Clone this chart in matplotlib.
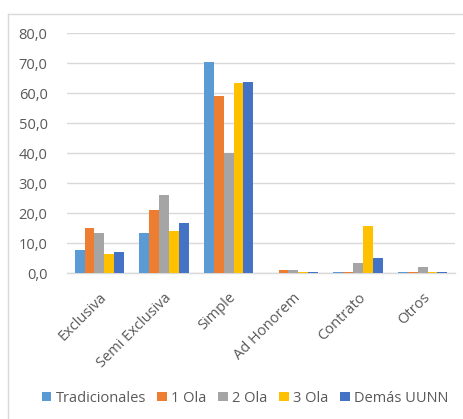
import matplotlib
matplotlib.use("Agg")
import matplotlib.pyplot as plt
import numpy as np
from matplotlib.lines import Line2D

categories = ["Exclusiva", "Semi Exclusiva", "Simple", "Ad Honorem", "Contrato", "Otros"]
series_names = ["Tradicionales", "1 Ola", "2 Ola", "3 Ola", "Demás UUNN"]
tradicionales = [7.8, 13.6, 70.6, 0.0, 0.6, 0.6]
ola1 = [15.0, 21.3, 59.1, 1.1, 0.6, 0.6]
ola2 = [13.6, 26.1, 40.3, 1.1, 3.4, 2.1]
ola3 = [6.4, 14.1, 63.4, 0.6, 15.9, 0.5]
demas = [7.3, 16.9, 63.9, 0.6, 5.1, 0.6]
yticks = [0, 10, 20, 30, 40, 50, 60, 70, 80]
ytick_labels = ["0,0", "10,0", "20,0", "30,0", "40,0", "50,0", "60,0", "70,0", "80,0"]

colors = ["#5B9BD5", "#ED7D31", "#A5A5A5", "#FFC000", "#4472C4"]
series = [tradicionales, ola1, ola2, ola3, demas]

plt.rcParams['font.family'] = ['Open Sans', 'DejaVu Sans']

fig = plt.figure(figsize=(4.64, 4.19), dpi=100)
ax = fig.add_axes([0.1444, 0.3473, 0.8362, 0.5728])

n = len(series)
bw = 0.152
x = np.arange(len(categories))
for i, (vals, c, name) in enumerate(zip(series, colors, series_names)):
    ax.bar(x + (i - (n - 1) / 2) * bw, vals, width=bw, color=c, label=name,
           linewidth=0, zorder=3)

ax.set_xlim(-0.5, len(categories) - 0.5)
ax.set_ylim(0, 80)
ax.set_yticks(yticks)
ax.set_yticklabels(ytick_labels, fontsize=10.5, color="#595959")
ax.yaxis.grid(True, color="#D9D9D9", linewidth=1.0, zorder=0)
ax.set_xticks(x)
ax.set_xticklabels(categories, rotation=45, ha="right", rotation_mode="anchor",
                   fontsize=10.5, color="#595959")
ax.tick_params(axis="both", length=0)
ax.tick_params(axis="y", pad=14)
ax.tick_params(axis="x", pad=12)
for s in ["top", "right", "left"]:
    ax.spines[s].set_visible(False)
ax.spines["bottom"].set_color("#D9D9D9")
ax.spines["bottom"].set_linewidth(1.0)
ax.spines["bottom"].set_zorder(2)

leg = fig.legend(loc="center", bbox_to_anchor=(0.528, 0.05), ncol=5, frameon=False,
                 fontsize=10.5, handlelength=0.65, handleheight=0.65, handletextpad=0.3,
                 columnspacing=0.8, labelcolor="#595959")

# outer chart border (top and left visible)
fig.add_artist(Line2D([8/464, 8/464], [0, 1 - 14/419], transform=fig.transFigure,
                      color="#D9D9D9", linewidth=1.0))
fig.add_artist(Line2D([8/464, 1], [1 - 14/419, 1 - 14/419], transform=fig.transFigure,
                      color="#D9D9D9", linewidth=1.0))

fig.savefig("out.png", dpi=100)
